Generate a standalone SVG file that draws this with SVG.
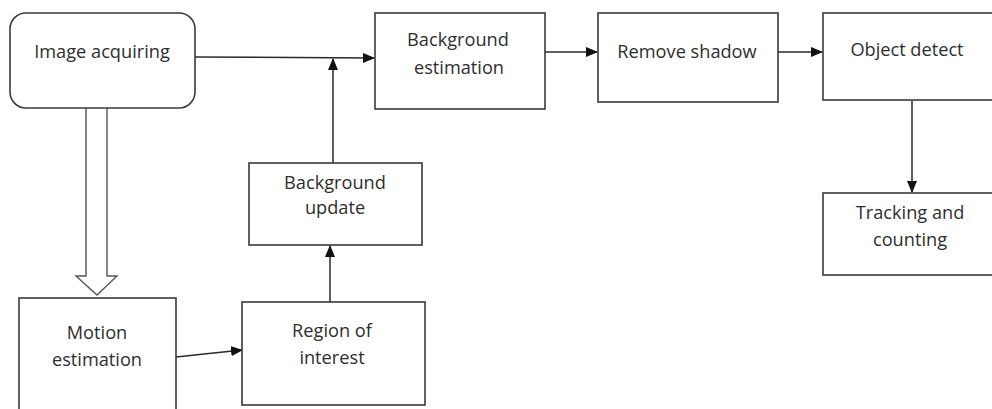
<svg xmlns="http://www.w3.org/2000/svg" width="992" height="409" viewBox="0 0 992 409">
<style>
.box{fill:#fff;stroke:#3a3a3a;stroke-width:1.6}
.t{font-family:"Open Sans","Liberation Sans",sans-serif;font-size:18.2px;fill:#2e2e2e;text-anchor:middle}
.c{fill:none;stroke:#2a2a2a;stroke-width:1.5}
</style>
<defs>
<marker id="ah" markerWidth="12" markerHeight="10" refX="11" refY="5" orient="auto" markerUnits="userSpaceOnUse">
<path d="M0,0 L12,5 L0,10 Z" fill="#111"/>
</marker>
</defs>
<rect width="992" height="409" fill="#fff"/>
<g id="connectors">
<line class="c" x1="195" y1="57" x2="374" y2="58" marker-end="url(#ah)"/>
<line class="c" x1="545" y1="52" x2="597" y2="52" marker-end="url(#ah)"/>
<line class="c" x1="778" y1="52" x2="822" y2="52" marker-end="url(#ah)"/>
<line class="c" x1="912" y1="101" x2="912" y2="192" marker-end="url(#ah)"/>
<line class="c" x1="333" y1="163" x2="333" y2="59" marker-end="url(#ah)"/>
<line class="c" x1="330" y1="302" x2="330" y2="246" marker-end="url(#ah)"/>
<line class="c" x1="176" y1="357" x2="242" y2="350" marker-end="url(#ah)"/>
<path d="M86,108 L86,276 L76,276 L97,295 L117,276 L107,276 L107,108" fill="#fff" stroke="#555" stroke-width="1.4" stroke-linejoin="miter"/>
</g>
<g id="image-acquiring">
<rect class="box" x="10" y="13" width="185" height="95" rx="16"/>
<text class="t" x="102" y="58">Image acquiring</text>
</g>
<g id="background-estimation">
<rect class="box" x="375" y="13" width="170" height="96"/>
<text class="t" x="458" y="46">Background</text>
<text class="t" x="459" y="74">estimation</text>
</g>
<g id="remove-shadow">
<rect class="box" x="598" y="13" width="180" height="89"/>
<text class="t" x="687" y="58">Remove shadow</text>
</g>
<g id="object-detect">
<rect class="box" x="823" y="13" width="175" height="87"/>
<text class="t" x="907" y="56">Object detect</text>
</g>
<g id="tracking-counting">
<rect class="box" x="823" y="193" width="175" height="82"/>
<text class="t" x="910" y="219">Tracking and</text>
<text class="t" x="910" y="246">counting</text>
</g>
<g id="background-update">
<rect class="box" x="249" y="163" width="173" height="82"/>
<text class="t" x="335" y="189">Background</text>
<text class="t" x="335" y="214">update</text>
</g>
<g id="motion-estimation">
<rect class="box" x="19" y="298" width="157" height="120"/>
<text class="t" x="97" y="339">Motion</text>
<text class="t" x="97" y="366">estimation</text>
</g>
<g id="region-of-interest">
<rect class="box" x="242" y="302" width="183" height="103"/>
<text class="t" x="332" y="337">Region of</text>
<text class="t" x="332" y="364">interest</text>
</g>
</svg>
